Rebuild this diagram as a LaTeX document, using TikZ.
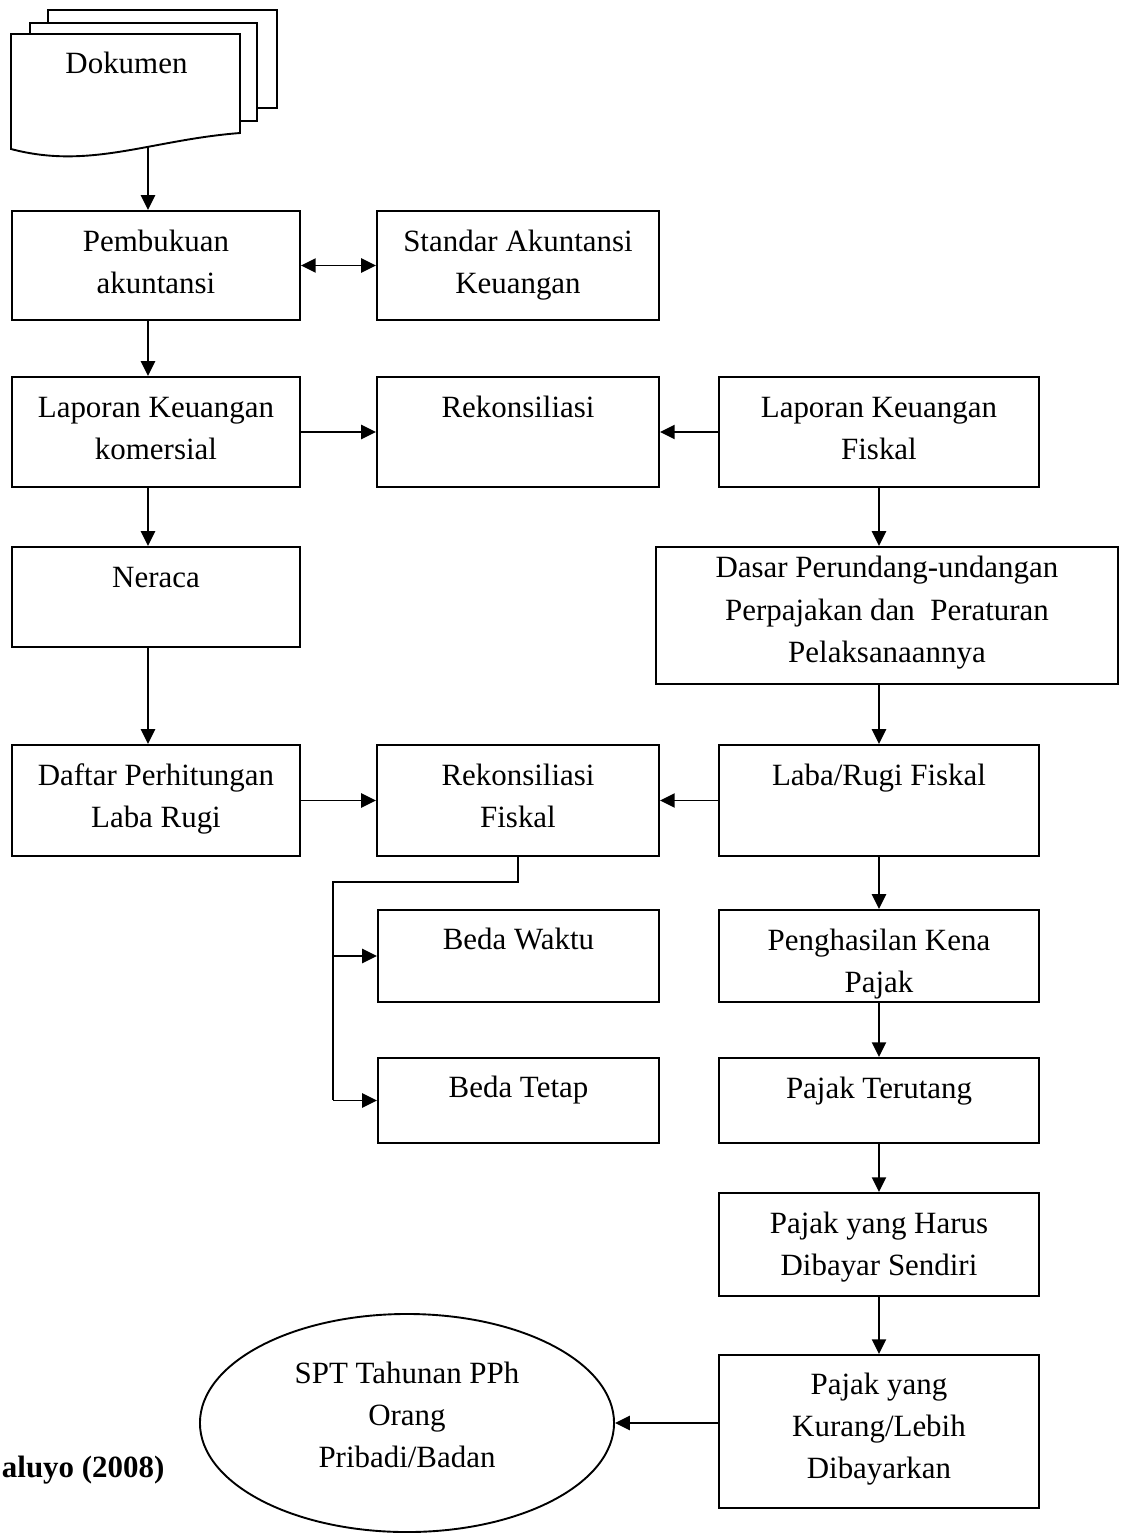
\documentclass[tikz,border=0pt]{standalone}
\usepackage{fontspec}
\setmainfont{Liberation Serif}
\usetikzlibrary{arrows.meta,shapes.geometric}
\newcommand{\inbox}[4][29pt]{\parbox[c][#3][t]{#2}{\centering\rule{0pt}{#1}#4}}

\begin{document}
\begin{tikzpicture}[x=0.025cm, y=-0.025cm, line width=1.35pt,
    every node/.style={font=\fontsize{22}{30}\selectfont},
    flow/.style={draw, anchor=north west, inner sep=0pt},
    arr/.style={-{Triangle[length=10.5pt,width=10pt]}},
    dblarr/.style={{Triangle[length=10.5pt,width=10pt]}-{Triangle[length=10.5pt,width=10pt]}}]
        \useasboundingbox (0,0) rectangle (1122,1535);

        % Document stack
        \draw[fill=white] (48,10) rectangle (277,108);
        \draw[fill=white] (30,23) rectangle (257,121);
        \draw[fill=white] (11,149) -- (11,34) -- (240,34) -- (240,133) .. controls (150,140) and (90,170) .. (11,149) -- cycle;
        \node[anchor=north west, inner sep=0pt] (dok) at (11,34) {\inbox[27.6pt]{5.725cm}{2.75cm}{Dokumen}};
        \coordinate (dokout) at (148,146);

        % Left column
        \node[flow] (pembukuan) at (11,210) {\inbox{7.2cm}{2.725cm}{Pembukuan\\akuntansi}};
        \node[flow] (lapkom) at (11,376) {\inbox{7.2cm}{2.75cm}{Laporan Keuangan\\komersial}};
        \node[flow] (neraca) at (11,546) {\inbox{7.2cm}{2.5cm}{Neraca}};
        \node[flow] (daftar) at (11,744) {\inbox{7.2cm}{2.775cm}{Daftar Perhitungan\\Laba Rugi}};

        % Middle column
        \node[flow] (standar) at (376,210) {\inbox{7.05cm}{2.725cm}{Standar Akuntansi\\Keuangan}};
        \node[flow] (rekon) at (376,376) {\inbox{7.05cm}{2.75cm}{Rekonsiliasi}};
        \node[flow] (rekfis) at (376,744) {\inbox{7.05cm}{2.775cm}{Rekonsiliasi\\Fiskal}};
        \node[flow] (bedawaktu) at (377,909) {\inbox[28pt]{7.025cm}{2.3cm}{Beda Waktu}};
        \node[flow] (bedatetap) at (377,1057) {\inbox[28pt]{7.025cm}{2.125cm}{Beda Tetap}};

        % Right column
        \node[flow] (lapfis) at (718,376) {\inbox{8cm}{2.75cm}{Laporan Keuangan\\Fiskal}};
        \node[flow] (dasar) at (655,546) {\inbox[22pt]{11.55cm}{3.425cm}{Dasar Perundang-undangan\\Perpajakan dan\ \ Peraturan\\Pelaksanaannya}};
        \node[flow] (labarugi) at (718,744) {\inbox{8cm}{2.775cm}{Laba/Rugi Fiskal}};
        \node[flow] (pkp) at (718,909) {\inbox{8cm}{2.3cm}{Penghasilan Kena\\Pajak}};
        \node[flow] (terutang) at (718,1057) {\inbox{8cm}{2.125cm}{Pajak Terutang}};
        \node[flow] (harus) at (718,1192) {\inbox{8cm}{2.575cm}{Pajak yang Harus\\Dibayar Sendiri}};
        \node[flow] (kurang) at (718,1354) {\inbox[28pt]{8cm}{3.825cm}{Pajak yang\\Kurang/Lebih\\Dibayarkan}};

        % Output
        \node[draw, ellipse, minimum width=10.35cm, minimum height=5.45cm, inner sep=0pt, align=center] (spt) at (407,1423) {SPT Tahunan PPh\\Orang\\Pribadi/Badan\\[-18pt]\mbox{}};
        \node[anchor=base west, inner sep=0pt, font=\fontsize{22}{30}\selectfont\bfseries] (sumber) at (1,1477) {aluyo (2008)};

        % Arrows
        \draw[arr] (dokout) -- (dokout |- pembukuan.north);
        \draw[dblarr] (pembukuan) -- (standar);
        \draw[arr] (pembukuan.south -| dokout) -- (lapkom.north -| dokout);
        \draw[arr] (lapkom) -- (rekon);
        \draw[arr] (lapfis) -- (rekon);
        \draw[arr] (lapkom.south -| dokout) -- (neraca.north -| dokout);
        \draw[arr] (lapfis.south) -- (lapfis.south |- dasar.north);
        \draw[arr] (neraca.south -| dokout) -- (daftar.north -| dokout);
        \draw[arr] (dasar.south -| labarugi.north) -- (labarugi.north);
        \draw[arr] (daftar) -- (rekfis);
        \draw[arr] (labarugi) -- (rekfis);

        % Split to Beda Waktu / Beda Tetap
        \coordinate (split) at (333,882);
        \draw (rekfis.south) |- (split) -- (split |- bedatetap.west);
        \draw[arr] (split |- bedawaktu.west) -- (bedawaktu.west);
        \draw[arr] (split |- bedatetap.west) -- (bedatetap.west);

        \draw[arr] (labarugi) -- (pkp);
        \draw[arr] (pkp) -- (terutang);
        \draw[arr] (terutang) -- (harus);
        \draw[arr] (harus) -- (kurang);
        \draw[arr] (kurang.west |- spt.east) -- (spt.east);
\end{tikzpicture}
\end{document}
